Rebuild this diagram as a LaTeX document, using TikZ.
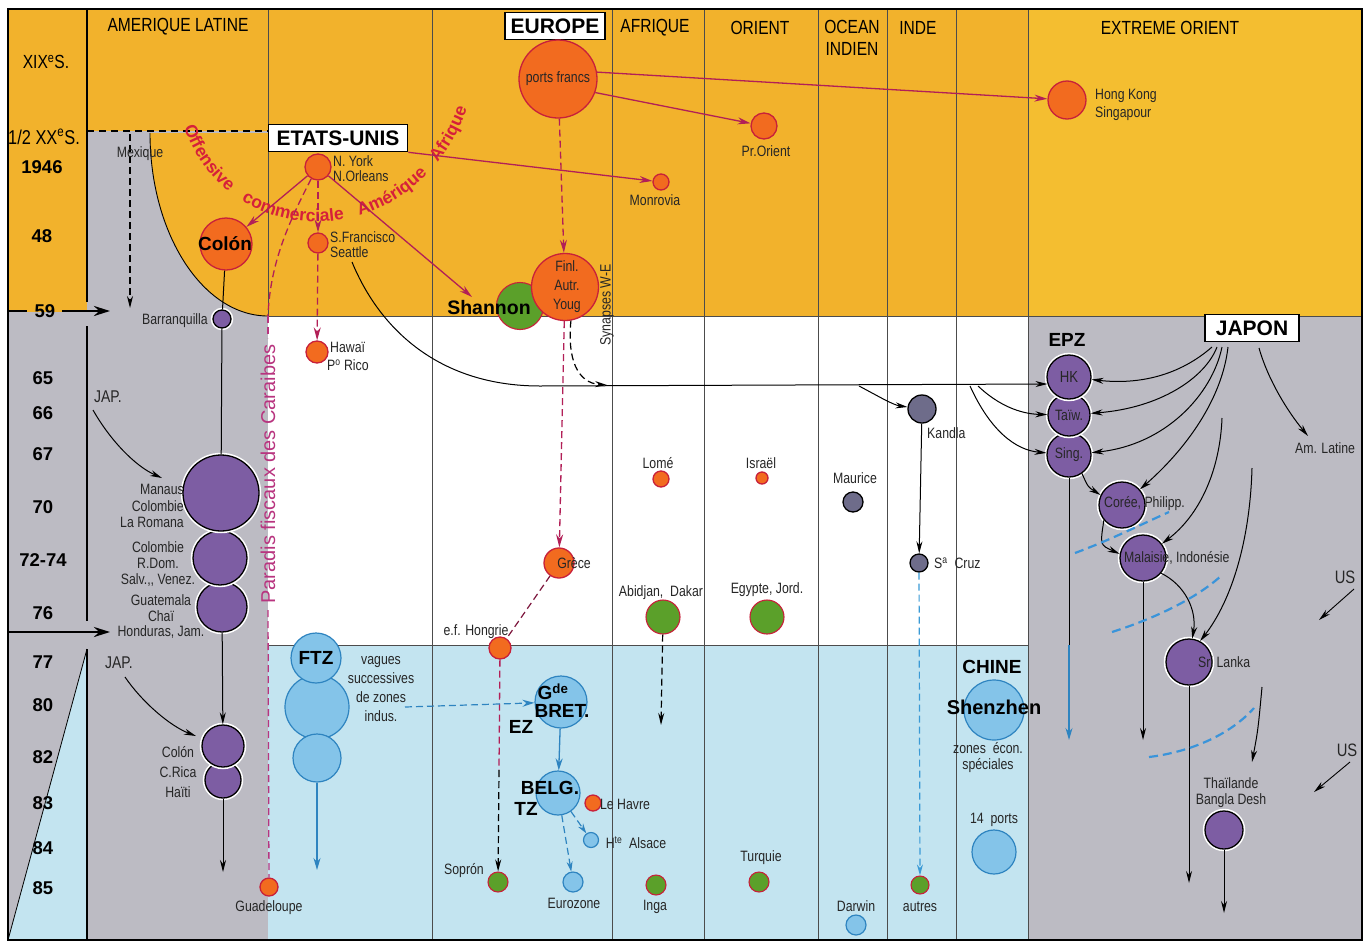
\documentclass[tikz,border=0pt]{standalone}
\usepackage{fontspec}
\setmainfont{Liberation Sans}
\newfontfamily\cond[FakeStretch=0.82]{Liberation Sans}
\usetikzlibrary{arrows.meta,decorations.text}
\definecolor{bgor}{HTML}{F2B22C}
\definecolor{bgor2}{HTML}{F4BE30}
\definecolor{bggr}{HTML}{BCBBC3}
\definecolor{bgbl}{HTML}{C3E4F0}
\definecolor{orf}{HTML}{F26B1F}
\definecolor{ord}{HTML}{C8203A}
\definecolor{puf}{HTML}{7D5DA3}
\definecolor{grf}{HTML}{5BA02A}
\definecolor{blf}{HTML}{84C4E9}
\definecolor{bld}{HTML}{2E84C0}
\definecolor{gyf}{HTML}{6E6C8A}
\definecolor{mag}{HTML}{B21F57}
\definecolor{pfpink}{HTML}{B8347F}
\definecolor{redtxt}{HTML}{D6203A}
\definecolor{wavec}{HTML}{3A94DA}
\definecolor{ltblue}{HTML}{3A9AD6}
\tikzset{
  disc/.style={circle,inner sep=0pt,minimum size=#1},
  orn/.style={disc=#1,fill=orf,draw=ord,line width=1.3pt},
  grn/.style={disc=#1,fill=grf,draw=ord,line width=1.1pt},
  pun/.style={disc=#1,fill=puf,draw=black,line width=1.3pt,preaction={draw=white,line width=4.5pt}},
  gyn/.style={disc=#1,fill=gyf,draw=black,line width=1.3pt,preaction={draw=white,line width=4pt}},
  bln/.style={disc=#1,fill=blf,draw=bld,line width=1.2pt},
  lab/.style={font=\cond\fontsize{15}{16}\selectfont,inner sep=0pt,align=center,text=black!85},
  labl/.style={lab,anchor=west},
  hdr/.style={font=\cond\fontsize{19}{22}\selectfont,inner sep=0pt,align=center},
  yr/.style={font=\bfseries\fontsize{18.5}{19}\selectfont,inner sep=0pt},
  bbox/.style={draw=black,line width=1.6pt,fill=white,font=\bfseries\fontsize{21}{21}\selectfont,inner xsep=3pt,inner ysep=2pt,minimum height=27pt},
  bl/.style={font=\bfseries\fontsize{19}{19}\selectfont,inner sep=0pt},
  colline/.style={draw=black!70,line width=0.9pt},
  arr/.style={draw=black,line width=1pt,-{Stealth[length=12pt,width=6pt]}},
  bigarr/.style={draw=black,line width=2.6pt,-{Stealth[length=16pt,width=10pt]}},
  marr/.style={draw=mag,line width=1.3pt,-{Stealth[length=13pt,width=7pt]}},
  mdash/.style={draw=mag,line width=1.3pt,dash pattern=on 7pt off 4pt},
  kdash/.style={draw=black,line width=1.2pt,dash pattern=on 7pt off 4pt},
  bdash/.style={draw=bld,line width=1.2pt,dash pattern=on 7pt off 4pt},
  barr/.style={draw=bld,line width=1.3pt,-{Stealth[length=12pt,width=7pt]}},
  tipk/.style={-{Stealth[length=12pt,width=6pt]}},
  tipm/.style={-{Stealth[length=13pt,width=7pt]}},
  wave/.style={draw=wavec,line width=2.2pt,dash pattern=on 9pt off 5pt},
}
\begin{document}
\begin{tikzpicture}[x=1pt,y=-1pt]
\useasboundingbox (0,0) rectangle (1372,945);
\fill[white] (0,0) rectangle (1372,945);
% ---------- backgrounds
\fill[bgor] (8,9) rectangle (1028,316);
\fill[bgor2] (1028,9) rectangle (1362,316);
\fill[bggr] (8,312) rectangle (87,940);
\fill[bgbl] (87,649) -- (8,940) -- (87,940) -- cycle;
\fill[bggr] (87,131) rectangle (268,940);
\fill[bgor] (268,133) -- (150,133) .. controls (150,234) and (203,316) .. (268,316) -- cycle;
\fill[white] (268,316) rectangle (1028,645);
\fill[bgbl] (268,645) rectangle (1028,940);
\fill[bggr] (1028,316) rectangle (1362,940);
% ---------- grid lines
\draw[line width=0.9pt] (150,133) .. controls (150,234) and (203,316) .. (268,316);
\draw[line width=0.8pt] (8,940) -- (87,649);
\foreach \x in {432,612,704,818,887,956,1028} \draw[colline] (\x,9) -- (\x,940);
\draw[colline] (268,9) -- (268,316);
\draw[colline] (268,316) -- (1362,316);
\draw[colline] (268,645) -- (1028,645);
\draw[line width=1.5pt] (87,9) -- (87,302) (87,326) -- (87,621) (87,649) -- (87,940);
\draw[line width=1.5pt] (8,9) rectangle (1362,940);
% ---------- headers
\node[hdr] (hal) at (178,27) {AMERIQUE LATINE};
\node[bbox,minimum width=100pt] (europe) at (555,26) {EUROPE};
\node[hdr] (haf) at (655,28) {AFRIQUE};
\node[hdr] (hor) at (760,28) {ORIENT};
\node[hdr] (hoi) at (852,38) {OCEAN\\INDIEN};
\node[hdr] (hin) at (918,28) {INDE};
\node[hdr] (heo) at (1170,28) {EXTREME ORIENT};
\node[bbox,minimum width=139pt] (etats) at (338,138) {ETATS-UNIS};
\node[bbox,minimum width=94pt] (japon) at (1252,328) {JAPON};
% ---------- row labels
\node[hdr] (rxix) at (46,62) {XIX\textsuperscript{e}S.};
\node[hdr,font=\cond\fontsize{20}{20}\selectfont] (rxx) at (44,137) {1/2 XX\textsuperscript{e}S.};
\node[yr] (y46) at (42,167) {1946};
\node[yr] (y48) at (42,236) {48};
\node[yr] (y59) at (45,311) {59};
\node[yr] (y65) at (43,378) {65};
\node[yr] (y66) at (43,413) {66};
\node[yr] (y67) at (43,454) {67};
\node[yr] (y70) at (43,507) {70};
\node[yr] (y72) at (43,560) {72-74};
\node[yr] (y76) at (43,613) {76};
\node[yr] (y77) at (43,662) {77};
\node[yr] (y80) at (43,705) {80};
\node[yr] (y82) at (43,757) {82};
\node[yr] (y83) at (43,803) {83};
\node[yr] (y84) at (43,848) {84};
\node[yr] (y85) at (43,888) {85};
\coordinate (a59a) at (8,311);
\coordinate (a59b) at (27,311);
\coordinate (a59c) at (62,311);
\coordinate (a59d) at (110,311);
\draw[line width=2.6pt] (a59a) -- (a59b);
\draw[bigarr] (a59c) -- (a59d);
\coordinate (a76a) at (8,632);
\coordinate (a76b) at (110,632);
\draw[bigarr] (a76a) -- (a76b);
% ---------- 1/2 XXe dashed line and Mexique
\coordinate (dl) at (87,131);
\draw[line width=1.2pt,dash pattern=on 7pt off 5pt] (dl) -- (etats.west |- dl);
\coordinate (mxa) at (130,134);
\coordinate (mxb) at (130,308);
\draw[kdash,tipk] (mxa) -- (mxb);
\node[lab] (lmex) at (140,154) {Mexique};
% ---------- curved red text
\coordinate (oa) at (184,127);
\coordinate (ob) at (467,109);
\path[decorate,decoration={text along path,text align={fit to path stretching spaces},text={|\bfseries\fontsize{17.5}{18}\selectfont\color{redtxt}|Offensive commerciale Amérique Afrique}}] (oa) .. controls (228,256) and (414,256) .. (ob);
% ---------- orange nodes (top)
\node[orn=78pt] (ports) at (558,79) {};
\node[lab] (tports) at (558,79) {ports francs};
\node[orn=26pt] (prorient) at (764,126) {};
\node[lab] (lpro) at (766,151) {Pr.Orient};
\node[orn=38pt] (hksg) at (1067,100) {};
\node[labl] (lhk) at (1095,96) {Hong Kong};
\node[labl] (lsg) at (1095,114) {Singapour};
\node[orn=26pt] (nyork) at (318,167) {};
\node[labl] (lny) at (333,161) {N. York};
\node[labl] (lno) at (333,176) {N.Orleans};
\node[orn=52pt] (colon) at (226,244) {};
\node[bl] (tcolon) at (225,244) {Colón};
\node[orn=20pt] (sfr) at (318,243) {};
\node[labl] (lsf) at (330,237) {S.Francisco};
\node[labl] (lse) at (330,252) {Seattle};
\node[orn=16pt] (monrovia) at (661,182) {};
\node[lab] (lmon) at (655,200) {Monrovia};
\node[grn=47pt] (shannon) at (520,306) {};
\node[orn=67pt] (fin) at (565,287) {};
\node[lab] (tfin) at (567,287) {Finl.\\[3pt]Autr.\\[3pt]Youg};
\node[bl,font=\bfseries\fontsize{19.5}{20}\selectfont] (lshan) at (489,308) {Shannon};
\node[orn=22pt] (hawai) at (317,352) {};
\node[labl] (lhaw) at (330,347) {Hawaï};
\node[labl] (lpri) at (327,365) {P\textsuperscript{o} Rico};
% ---------- connectors top
\draw[marr] (ports.10) -- (hksg);
\draw[marr] (ports.-20) -- (prorient);
\draw[mdash,tipm] (ports) -- (fin);
\draw[marr] (etats.south east) -- (monrovia);
\draw[marr] (nyork) -- (colon);
\draw[mdash,tipm] (nyork) -- (sfr);
\coordinate (shtip) at (472,297);
\draw[marr] (nyork) -- (shtip);
\coordinate (pfa) at (268,316);
\coordinate (pfb) at (268,338);
\coordinate (pfc) at (268,610);
\draw[mdash] (nyork.240) .. controls (290,220) and (270,262) .. (pfa);
\draw[mdash,draw=pfpink] (pfa) -- (pfb);
\draw[mdash,tipm] (sfr) -- (hawai);
\node[font=\fontsize{20}{20}\selectfont,text=pfpink,rotate=90,inner sep=0pt] (parad) at (268,474) {Paradis fiscaux des Caraibes};
\node[lab,rotate=90] (syntxt) at (607,305) {Synapses W-E};
% ---------- Amerique latine column
\node[pun=18pt] (barr) at (222,319) {};
\node[lab,anchor=east] (lbar) at (208,321) {Barranquilla};
\node[pun=50pt] (guat) at (222,607) {};
\node[pun=54pt] (colombie) at (220,558) {};
\node[pun=76pt] (manaus) at (221,493) {};
\node[lab,align=right,anchor=east,font=\cond\fontsize{15}{16.5}\selectfont] (lman) at (184,506) {Manaus\\Colombie\\La Romana};
\node[lab] (lcolb) at (158,564) {Colombie\\R.Dom.\\Salv.,, Venez.};
\node[lab,font=\cond\fontsize{15}{15.5}\selectfont] (lguat) at (161,617) {Guatemala\\Chaï\\Honduras, Jam.};
\node[pun=36pt] (crica) at (223,780) {};
\node[pun=42pt] (colon2) at (223,746) {};
\node[lab] (lcol2) at (178,772) {Colón\\[4pt]C.Rica\\[4pt]Haïti};
\draw[line width=1pt] (colon) -- (barr);
\draw[line width=1pt] (barr) -- (manaus);
\draw[arr] (guat) -- (colon2);
\coordinate (crend) at (223,872);
\draw[arr] (crica) -- (crend);
\node[lab,font=\cond\fontsize{17}{17}\selectfont] (jap1) at (108,397) {JAP.};
\node[lab,font=\cond\fontsize{17}{17}\selectfont] (jap2) at (119,663) {JAP.};
\coordinate (j1a) at (93,410);
\coordinate (j1b) at (162,478);
\draw[arr] (j1a) .. controls (110,440) and (135,466) .. (j1b);
\coordinate (j2a) at (125,677);
\coordinate (j2b) at (196,736);
\draw[arr] (j2a) .. controls (142,702) and (170,726) .. (j2b);
\node[orn=18pt] (guad) at (269,887) {};
\node[lab] (lguad) at (269,908) {Guadeloupe};
\draw[mdash,draw=pfpink] (pfc) -- (guad);
% ---------- Europe column lower
\node[orn=30pt] (grece) at (559,563) {};
\node[lab] (lgre) at (574,563) {Grèce};
\node[orn=22pt] (hongrie) at (500,648) {};
\node[lab] (lhon) at (476,632) {e.f. Hongrie};
\node[grn=20pt] (sopron) at (498,882) {};
\node[lab] (lsop) at (464,871) {Soprón};
\draw[mdash,tipm] (fin) -- (grece);
\draw[line width=1.2pt,draw=mag!70!black,dash pattern=on 7pt off 4pt] (grece) -- (hongrie);
\coordinate (hs) at (499,770);
\draw[mdash] (hongrie) -- (hs);
\draw[kdash,tipk] (hs) -- (sopron);
% ---------- Afrique / Orient / Ocean Indien / Inde
\node[orn=16pt] (lome) at (661,479) {};
\node[lab] (llome) at (658,463) {Lomé};
\node[orn=12pt] (israel) at (762,478) {};
\node[lab] (lisr) at (761,463) {Israël};
\node[gyn=20pt] (maurice) at (853,502) {};
\node[lab] (lmau) at (855,478) {Maurice};
\node[grn=34pt] (abidjan) at (663,617) {};
\node[lab] (labi) at (661,593) {Abidjan,\ \ Dakar};
\node[grn=34pt] (egypte) at (767,617) {};
\node[lab] (legy) at (767,590) {Egypte,\ Jord.};
\coordinate (abend) at (661,725);
\draw[kdash,tipk] (abidjan) -- (abend);
\node[gyn=28pt] (kandla) at (922,409) {};
\node[labl] (lkan) at (927,433) {Kandla};
\node[gyn=18pt] (sacruz) at (919,563) {};
\node[labl] (lsac) at (934,563) {S\textsuperscript{a}\ \ Cruz};
\node[grn=18pt] (autres) at (920,885) {};
\node[lab] (laut) at (920,907) {autres};
\draw[arr] (kandla) -- (sacruz);
\draw[line width=1.2pt,draw=ltblue,dash pattern=on 7pt off 4pt,-{Stealth[length=11pt,width=6pt]}] (sacruz) -- (autres);
\node[grn=20pt] (inga) at (656,885) {};
\node[lab] (linga) at (655,907) {Inga};
\node[grn=20pt] (turquie) at (759,882) {};
\node[lab] (ltur) at (761,858) {Turquie};
\node[bln=20pt] (darwin) at (856,925) {};
\node[lab] (ldar) at (856,906) {Darwin};
% ---------- FTZ and Europe blue
\node[bln=64pt] (ftz2) at (317,707) {};
\node[bln=48pt] (ftz3) at (317,758) {};
\node[bln=50pt] (ftz1) at (316,658) {};
\node[bl] (tftz) at (316,658) {FTZ};
\node[lab,font=\cond\fontsize{15}{18.7}\selectfont] (lvag) at (381,689) {vagues\\successives\\de zones\\indus.};
\coordinate (ftzend) at (317,870);
\draw[barr] (ftz3) -- (ftzend);
\node[bln=52pt] (gbret) at (561,702) {};
\coordinate (ftzr) at (405,707);
\draw[bdash,-{Stealth[length=12pt,width=7pt]}] (ftzr) -- (gbret);
\node[bl] (tg) at (553,692) {G\textsuperscript{de}};
\node[bl] (tbret) at (562,711) {BRET.};
\node[bl] (tez) at (521,727) {EZ};
\node[bln=44pt] (belg) at (558,793) {};
\node[bl] (tbelg) at (550,788) {BELG.};
\node[bl] (ttz) at (526,809) {TZ};
\draw[barr] (gbret) -- (belg);
\node[orn=16pt] (lehavre) at (593,803) {};
\node[lab] (lleh) at (625,804) {Le Havre};
\node[bln=15pt] (alsace) at (591,840) {};
\node[lab] (lals) at (636,843) {H\textsuperscript{te}\ \ Alsace};
\node[bln=20pt] (eurozone) at (573,882) {};
\node[lab] (leur) at (574,903) {Eurozone};
\draw[bdash,-{Stealth[length=10pt,width=6pt]}] (belg) -- (eurozone);
\draw[bdash,-{Stealth[length=10pt,width=6pt]}] (belg) -- (alsace);
% ---------- Chine
\node[bl] (lchine) at (992,667) {CHINE};
\node[bln=60pt] (shenzhen) at (994,710) {};
\node[bl,font=\bfseries\fontsize{20}{20}\selectfont] (tshen) at (994,707) {Shenzhen};
\node[lab] (lzon) at (988,758) {zones\ \ écon.\\spéciales};
\node[lab] (l14) at (994,820) {14\ \ ports};
\node[bln=44pt] (ports14) at (994,852) {};
% ---------- Extreme Orient
\node[bl] (lepz) at (1067,340) {EPZ};
\node[pun=44pt] (sing) at (1069,455) {};
\node[pun=42pt] (taiw) at (1069,415) {};
\node[pun=44pt] (hk) at (1069,377) {};
\node[lab,font=\cond\fontsize{16}{16}\selectfont] (thk) at (1069,377) {HK};
\node[lab] (ttaiw) at (1069,415) {Taïw.};
\node[lab] (tsing) at (1069,455) {Sing.};
\node[pun=46pt] (coree) at (1122,505) {};
\node[labl] (lcor) at (1104,504) {Corée, Philipp.};
\node[pun=46pt] (malaisie) at (1143,558) {};
\node[labl] (lmal) at (1124,558) {Malaisie, Indonésie};
\node[pun=46pt] (srilanka) at (1189,662) {};
\node[labl] (lsri) at (1198,662) {Sri Lanka};
\node[pun=38pt] (thai) at (1224,830) {};
\node[lab] (lthai) at (1231,793) {Thaïlande\\Bangla Desh};
\node[lab] (lamlat) at (1325,448) {Am. Latine};
\node[lab,font=\cond\fontsize{18}{18}\selectfont] (lus1) at (1345,577) {US};
\node[lab,font=\cond\fontsize{18}{18}\selectfont] (lus2) at (1347,750) {US};
% long horizontal arrow and branches
\coordinate (seat) at (352,262);
\coordinate (hz) at (540,386);
\draw[arr] (seat) .. controls (380,330) and (440,386) .. (hz) -- (hk.198);
\coordinate (syn) at (607,385);
\draw[kdash,tipk] (fin.-80) .. controls (567,360) and (578,383) .. (syn);
\coordinate (bk) at (859,386);
\draw[arr] (bk) .. controls (878,396) and (893,405) .. (kandla);
\coordinate (bs) at (970,386);
\coordinate (bt) at (978,386);
\draw[arr] (bs) .. controls (990,430) and (1015,450) .. (sing);
\draw[arr] (bt) .. controls (998,405) and (1020,414) .. (taiw);
% Japon fan
\coordinate (jf1) at (1212,347);
\coordinate (jf2) at (1217,347);
\coordinate (jf3) at (1222,347);
\coordinate (jf4) at (1228,347);
\coordinate (jf5) at (1259,348);
\coordinate (amt) at (1308,436);
\draw[arr] (jf1) .. controls (1180,375) and (1140,385) .. (hk);
\draw[arr] (jf2) .. controls (1205,378) and (1160,408) .. (taiw);
\draw[arr] (jf3) .. controls (1212,395) and (1165,445) .. (sing);
\draw[arr] (jf4) .. controls (1222,400) and (1185,450) .. (coree);
\draw[arr] (jf5) .. controls (1268,380) and (1288,412) .. (amt);
\coordinate (jm) at (1222,418);
\draw[arr] (jm) .. controls (1220,470) and (1200,515) .. (malaisie);
\coordinate (js) at (1252,468);
\draw[arr] (js) .. controls (1250,540) and (1232,600) .. (srilanka.62);
\draw[arr] (malaisie.-40) .. controls (1185,585) and (1197,610) .. (srilanka.82);
\draw[arr] (sing.-55) .. controls (1088,487) .. (coree.155);
\draw[arr] (coree.-140) .. controls (1100,545) .. (malaisie.170);
\coordinate (sgm) at (1069,645);
\coordinate (sge) at (1069,740);
\draw[line width=1pt] (sing) -- (sgm);
\draw[barr] (sgm) -- (sge);
\coordinate (mle) at (1143,740);
\draw[arr] (malaisie) -- (mle);
\coordinate (sle) at (1189,883);
\draw[arr] (srilanka) -- (sle);
\coordinate (the) at (1224,913);
\draw[arr] (thai) -- (the);
\coordinate (xa) at (1262,687);
\coordinate (xb) at (1252,762);
\draw[arr] (xa) .. controls (1258,730) .. (xb);
\coordinate (u1a) at (1354,589);
\coordinate (u1b) at (1319,620);
\draw[arr,line width=0.9pt] (u1a) -- (u1b);
\coordinate (u2a) at (1350,762);
\coordinate (u2b) at (1314,792);
\draw[arr,line width=0.9pt] (u2a) -- (u2b);
% blue dashed waves
\coordinate (w1a) at (1075,553);
\coordinate (w1b) at (1169,512);
\draw[wave] (w1a) .. controls (1110,540) and (1140,525) .. (w1b);
\coordinate (w2a) at (1112,632);
\coordinate (w2b) at (1222,575);
\draw[wave] (w2a) .. controls (1150,620) and (1195,600) .. (w2b);
\coordinate (w3a) at (1149,757);
\coordinate (w3b) at (1254,708);
\draw[wave] (w3a) .. controls (1190,752) and (1230,735) .. (w3b);
\end{tikzpicture}
\end{document}
